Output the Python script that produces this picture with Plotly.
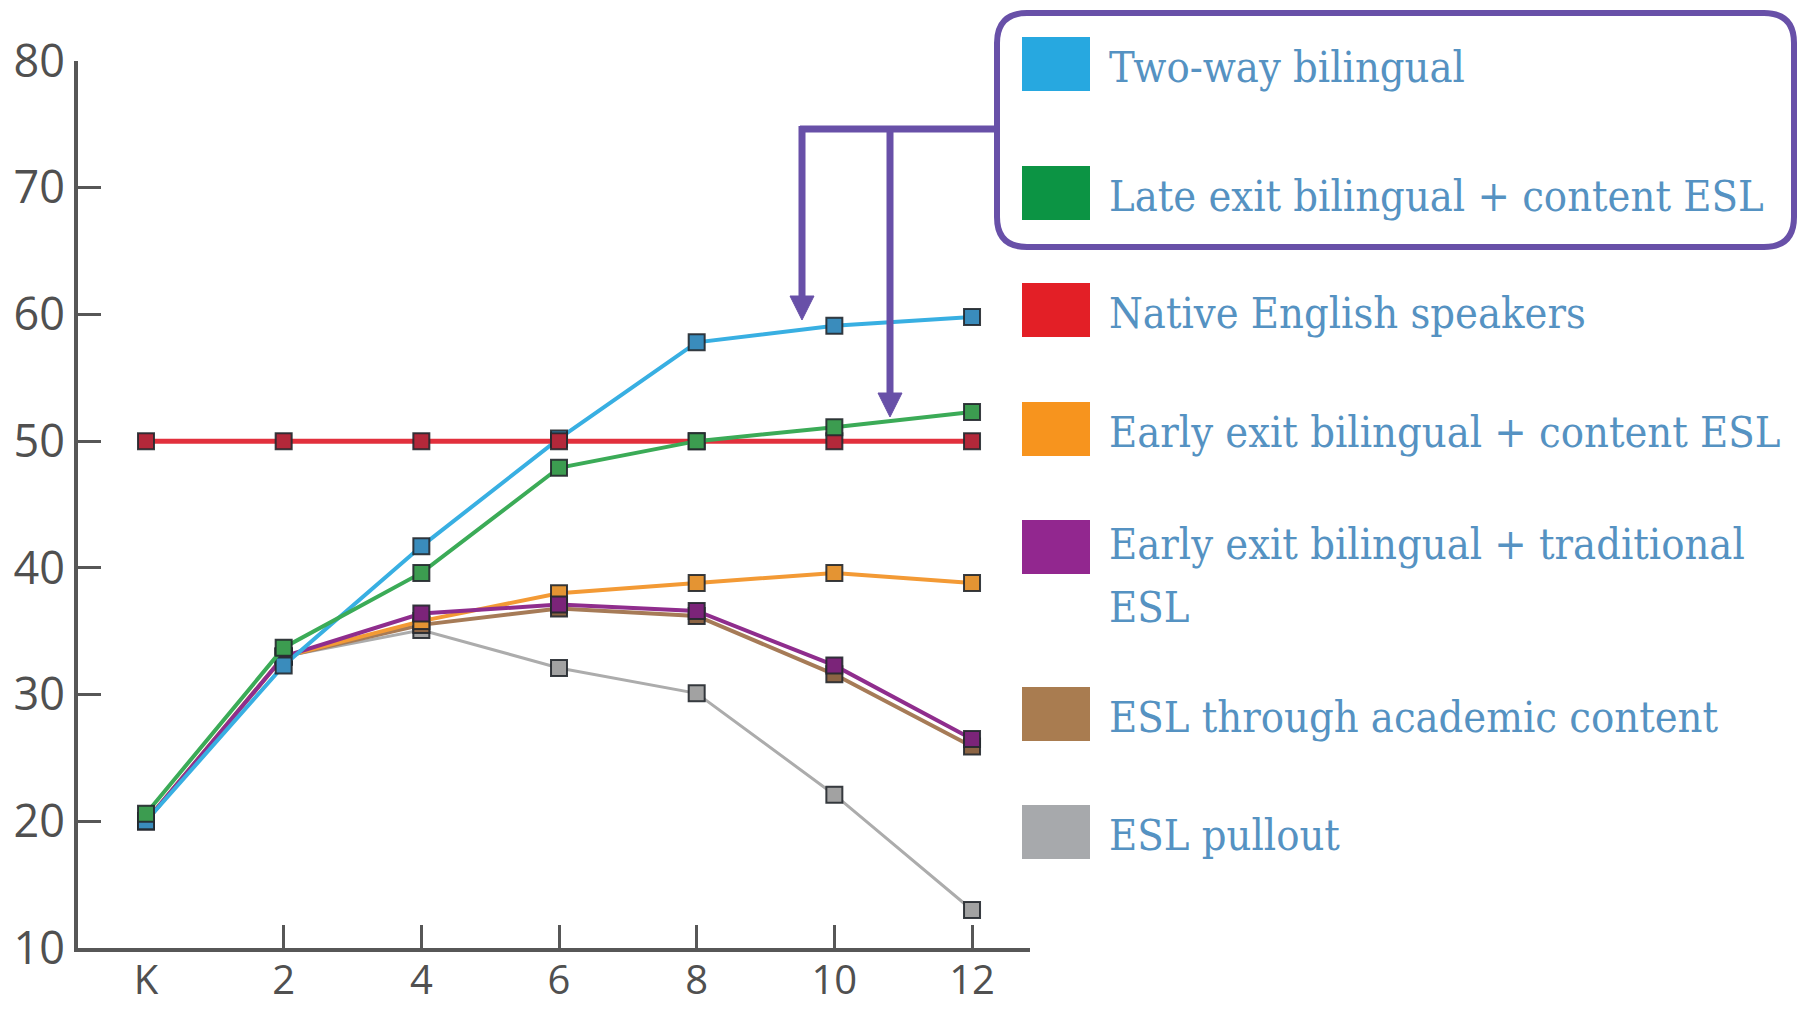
import plotly.graph_objects as go

# ---- data -------------------------------------------------------------
grades = ["K", "2", "4", "6", "8", "10", "12"]

series_names = [
    "Two-way bilingual",
    "Late exit bilingual + content ESL",
    "Native English speakers",
    "Early exit bilingual + content ESL",
    "Early exit bilingual + traditional<br>ESL",
    "ESL through academic content",
    "ESL pullout",
]

two_way = [20.0, 32.3, 41.7, 50.2, 57.8, 59.1, 59.8]
late_exit_content = [20.6, 33.7, 39.6, 47.9, 50.0, 51.1, 52.3]
native_english = [50.0, 50.0, 50.0, 50.0, 50.0, 50.0, 50.0]
early_exit_content = [20.0, 33.0, 35.8, 38.0, 38.8, 39.6, 38.8]
early_exit_traditional = [20.0, 33.0, 36.4, 37.1, 36.6, 32.3, 26.5]
esl_academic = [20.0, 33.0, 35.5, 36.8, 36.2, 31.6, 25.9]
esl_pullout = [20.0, 33.0, 35.1, 32.1, 30.1, 22.1, 13.0]

y_ticks = [10, 20, 30, 40, 50, 60, 70, 80]

# ---- styling ----------------------------------------------------------
W, H = 1799, 1009

series = [
    # values, line colour, marker fill, swatch colour, line width
    (two_way, "#38afe2", "#3a8cbc", "#27a8e0", 4),
    (late_exit_content, "#3bab57", "#3c9c50", "#0c9444", 4),
    (native_english, "#e2303d", "#b3283a", "#e31f26", 5),
    (early_exit_content, "#f39a35", "#e49433", "#f7941e", 4),
    (early_exit_traditional, "#8f2d8d", "#7b2479", "#92278f", 4),
    (esl_academic, "#a67b57", "#8c6444", "#a97c50", 4),
    (esl_pullout, "#acacac", "#a2a2a2", "#a7a9ac", 3),
]

# stacking order of the lines (last one drawn on top)
draw_order = [6, 5, 3, 4, 0, 2, 1]

x_idx = list(range(len(grades)))

fig = go.Figure()
for i in draw_order:
    vals, lcol, mcol, _, lw = series[i]
    fig.add_trace(go.Scatter(
        x=x_idx, y=vals, mode="lines+markers",
        name=series_names[i].replace("<br>", " "),
        line=dict(color=lcol, width=lw),
        marker=dict(symbol="square", size=16, color=mcol,
                    line=dict(color="rgba(35,40,45,0.9)", width=2)),
        showlegend=False,
    ))


def px(x):
    return x / W


def py(y):
    return 1 - y / H


# plot area in pixels
left, right, top, bottom = 78, 1030, 61, 948
k_px, step_px = 146, 137.67

axis_col = "#575757"
y_tick_font = dict(family="Open Sans, Lato, sans-serif", size=45, color="#505050")
x_tick_font = dict(family="Open Sans, Lato, sans-serif", size=40, color="#505050")

fig.update_layout(
    width=W, height=H,
    margin=dict(l=0, r=0, t=0, b=0),
    paper_bgcolor="white", plot_bgcolor="white",
    showlegend=False,
    xaxis=dict(
        domain=[px(left), px(right)],
        range=[-(k_px - left) / step_px, (right - k_px) / step_px],
        tickmode="array", tickvals=x_idx, ticktext=grades,
        ticks="", showgrid=False, zeroline=False, automargin=False,
        showline=True, linecolor=axis_col, linewidth=4,
        tickfont=x_tick_font, ticklabelstandoff=-6,
        minor=dict(tickmode="array", tickvals=x_idx[1:], ticks="inside",
                   ticklen=23, tickwidth=3, tickcolor=axis_col, showgrid=False),
    ),
    yaxis=dict(
        domain=[py(bottom), py(top)],
        range=[10, 80],
        tickmode="array", tickvals=y_ticks,
        ticks="inside", ticklen=23, tickwidth=3, tickcolor=axis_col,
        showgrid=False, zeroline=False, automargin=False,
        showline=True, linecolor=axis_col, linewidth=4,
        tickfont=y_tick_font, ticklabelstandoff=0,
    ),
)

# ---- legend: colour swatches with labels ------------------------------
swatch_centres = [64, 193, 310, 429, 547, 714, 832]
label_font = dict(family="DejaVu Serif Condensed, DejaVu Serif, serif",
                  size=43, color="#5592c2")
line_gap = 63
for i, cy in enumerate(swatch_centres):
    fig.add_shape(type="rect", xref="paper", yref="paper",
                  x0=px(1022), x1=px(1090), y0=py(cy - 27), y1=py(cy + 27),
                  fillcolor=series[i][3], line=dict(width=0))
    parts = series_names[i].split("<br>")
    first = cy + 3 if len(parts) == 1 else cy - 3
    for k, part in enumerate(parts):
        fig.add_annotation(x=px(1107), y=py(first + k * line_gap),
                           xref="paper", yref="paper",
                           xanchor="left", yanchor="middle", align="left",
                           text=part, showarrow=False, font=label_font)

# ---- highlight box around the two bilingual programmes -----------------
purple = "#6850a8"
bx0, bx1, by0, by1, r = 997, 1794, 13, 247, 30


def P(x, y):
    return f"{px(x):.6f},{py(y):.6f}"


box_path = (
    f"M {P(bx0 + r, by0)} L {P(bx1 - r, by0)} Q {P(bx1, by0)} {P(bx1, by0 + r)} "
    f"L {P(bx1, by1 - r)} Q {P(bx1, by1)} {P(bx1 - r, by1)} "
    f"L {P(bx0 + r, by1)} Q {P(bx0, by1)} {P(bx0, by1 - r)} "
    f"L {P(bx0, by0 + r)} Q {P(bx0, by0)} {P(bx0 + r, by0)} Z"
)
fig.add_shape(type="path", xref="paper", yref="paper", path=box_path,
              line=dict(color=purple, width=6), fillcolor="rgba(0,0,0,0)")

# connector from the box to the two curves
conn_y = 129
fig.add_shape(type="line", xref="paper", yref="paper",
              x0=px(800), x1=px(bx0), y0=py(conn_y), y1=py(conn_y),
              line=dict(color=purple, width=7))
for ax, tip in [(802, 320), (890, 417)]:
    fig.add_shape(type="line", xref="paper", yref="paper",
                  x0=px(ax), x1=px(ax), y0=py(conn_y - 3), y1=py(tip - 20),
                  line=dict(color=purple, width=7))
    head = f"M {P(ax - 12, tip - 24)} L {P(ax + 12, tip - 24)} L {P(ax, tip)} Z"
    fig.add_shape(type="path", xref="paper", yref="paper", path=head,
                  fillcolor=purple, line=dict(color=purple, width=1))

fig.write_html("out.html")
